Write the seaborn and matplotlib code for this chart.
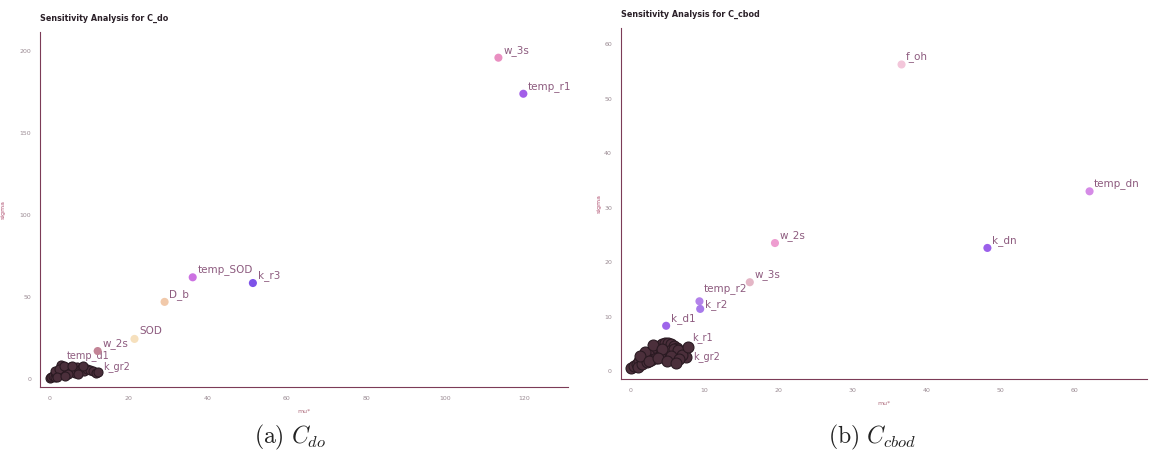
import matplotlib
matplotlib.use("Agg")
import matplotlib.pyplot as plt
from matplotlib.ticker import MultipleLocator
import pandas as pd
import seaborn as sns

sns.set_theme(style="white")
plt.rcParams["font.family"] = ["DejaVu Sans"]
plt.rcParams["mathtext.fontset"] = "cm"

# ---- C_do: named parameters -------------------------------------------
do_params = ["w_3s", "temp_r1", "temp_SOD", "k_r3", "D_b", "SOD", "w_2s"]
do_mu = [113.4, 119.7, 36.2, 51.4, 29.1, 21.5, 12.2]
do_sigma = [196.0, 174.0, 62.0, 58.5, 47.0, 24.4, 17.0]
do_colors = ["#e98fc1", "#a25ee8", "#cc72e2", "#7d52e8", "#f1c9aa", "#f6e0bd", "#c38496"]

# C_do: low-influence group near the origin
do_low_mu = [0.2, 0.5, 0.9, 1.3, 1.7, 2.1, 2.6, 3.0, 3.3, 3.8, 4.2, 4.7, 5.1, 5.6, 6.0,
             6.5, 7.0, 7.6, 8.2, 8.8, 9.5, 10.2, 11.0, 11.8, 12.4, 1.5, 2.4, 3.6, 4.6,
             5.8, 7.2, 8.6, 2.0, 4.0]
do_low_sigma = [0.3, 1.0, 2.0, 1.4, 3.2, 2.6, 4.0, 8.5, 5.2, 3.4, 6.1, 4.5, 7.2, 5.0, 6.6,
                3.9, 7.5, 5.3, 6.8, 4.6, 6.2, 5.5, 4.8, 3.6, 4.3, 4.8, 6.3, 7.8, 2.8,
                8.0, 2.7, 7.6, 0.9, 1.8]
do_low_labels = {"temp_d1": (3.3, 9.5), "k_gr2": (12.4, 3.0)}

# ---- C_cbod: named parameters -----------------------------------------
cbod_params = ["f_oh", "temp_dn", "k_dn", "w_2s", "w_3s", "temp_r2", "k_r2", "k_d1"]
cbod_mu = [36.6, 62.0, 48.2, 19.5, 16.1, 9.3, 9.4, 4.8]
cbod_sigma = [56.3, 33.0, 22.6, 23.5, 16.3, 12.8, 11.4, 8.3]
cbod_colors = ["#f3c6da", "#d58be6", "#9b60ea", "#ee9dd0", "#e4b6c6", "#b382ea", "#a87aea", "#9e66ea"]
cbod_label_shift = [0.0, 0.0, 0.0, 0.0, 0.0, 0.9, -0.6, 0.0]

# C_cbod: low-influence group near the origin
cbod_low_mu = [0.1, 0.4, 0.8, 1.1, 1.5, 1.9, 2.3, 2.7, 3.1, 3.5, 3.9, 4.3, 4.7, 5.1, 5.5,
               5.9, 6.3, 6.7, 7.1, 7.5, 1.0, 1.6, 2.2, 2.8, 3.4, 4.0, 4.6, 5.2, 5.8, 6.4,
               7.0, 2.0, 3.0, 4.2, 5.4, 6.6, 1.3, 2.5, 3.7, 4.9, 6.1, 7.7]
cbod_low_sigma = [0.5, 0.9, 1.3, 1.8, 2.2, 2.6, 3.0, 3.4, 3.8, 4.2, 4.6, 4.9, 5.1, 5.2, 4.9,
                  4.6, 4.2, 3.7, 3.2, 2.6, 0.8, 1.2, 1.6, 2.0, 2.4, 2.8, 3.2, 3.6, 4.0, 3.8,
                  3.0, 3.5, 4.8, 4.0, 2.7, 2.2, 2.8, 1.8, 2.3, 1.9, 1.5, 4.4]
cbod_low_labels = {"k_r1": (7.7, 4.8), "k_gr2": (7.8, 1.2)}

LABEL_COLOR = "#8d5b7f"
SPINE_COLOR = "#7c3b57"
LOW_COLOR = "#4b2f3b"

fig = plt.figure(figsize=(11.5, 4.59), dpi=100)
ax1 = fig.add_axes([0.035, 0.157, 0.459, 0.773])
ax2 = fig.add_axes([0.540, 0.174, 0.457, 0.765])


def draw_panel(ax, params, mu, sigma, colors, shifts, low_mu, low_sigma, low_labels,
               title, xlim, ylim, xmaj, xmin, ymaj, ymin, offset, low_size, ypad):
    low = pd.DataFrame({"mu_star": low_mu, "sigma": low_sigma})
    named = pd.DataFrame({"mu_star": mu, "sigma": sigma, "param": params})

    # labels of the low-influence group sit beneath its markers
    for name, (x, y) in low_labels.items():
        ax.text(x + offset[0], y + offset[1], name, fontsize=7,
                color=LABEL_COLOR, zorder=1)

    sns.scatterplot(data=low, x="mu_star", y="sigma", ax=ax, s=low_size,
                    color=LOW_COLOR, edgecolor="#2a1a22", linewidth=0.8,
                    legend=False, zorder=3)
    sns.scatterplot(data=named, x="mu_star", y="sigma", hue="param",
                    palette=dict(zip(params, colors)), ax=ax, s=34,
                    linewidth=0, legend=False, zorder=4)
    for name, x, y, dy in zip(params, mu, sigma, shifts):
        ax.text(x + offset[0], y + offset[1] + dy, name, fontsize=7.5,
                color=LABEL_COLOR, zorder=5)

    ax.set_xlim(*xlim)
    ax.set_ylim(*ylim)
    ax.xaxis.set_major_locator(MultipleLocator(xmaj))
    ax.xaxis.set_minor_locator(MultipleLocator(xmin))
    ax.yaxis.set_major_locator(MultipleLocator(ymaj))
    ax.yaxis.set_minor_locator(MultipleLocator(ymin))
    ax.tick_params(which="both", direction="out", colors="#6a4a5a",
                   labelcolor="#9a8a92", labelsize=4.5, width=0.6)
    ax.tick_params(which="major", length=3)
    ax.tick_params(which="minor", length=1.8)
    for side in ("top", "right"):
        ax.spines[side].set_visible(False)
    for side in ("left", "bottom"):
        ax.spines[side].set_color(SPINE_COLOR)
        ax.spines[side].set_linewidth(0.8)
    ax.set_xlabel("mu*", fontsize=4.5, color="#b07080", labelpad=6)
    ax.set_ylabel("sigma", fontsize=4.5, color="#b05070", labelpad=ypad)
    ax.set_title(title, fontsize=5.8, fontweight="bold", color="#2a2028",
                 loc="left", pad=8)
    ax.set_facecolor("white")


draw_panel(ax1, do_params, do_mu, do_sigma, do_colors, [0.0] * len(do_params),
           do_low_mu, do_low_sigma, do_low_labels,
           "Sensitivity Analysis for C_do",
           (-2.3, 131), (-4.9, 211.6), 20, 4, 50, 10, (1.2, 3.0), 42, 10)
draw_panel(ax2, cbod_params, cbod_mu, cbod_sigma, cbod_colors, cbod_label_shift,
           cbod_low_mu, cbod_low_sigma, cbod_low_labels,
           "Sensitivity Analysis for C_cbod",
           (-1.3, 69.7), (-1.5, 63.0), 10, 2, 10, 2, (0.6, 0.9), 62, 2)

fig.text(0.252, 0.048, r"$\mathrm{(a)}\ C_{do}$", fontsize=17, ha="center",
         va="center", color="#222222")
fig.text(0.758, 0.048, r"$\mathrm{(b)}\ C_{cbod}$", fontsize=17, ha="center",
         va="center", color="#222222")

fig.savefig("out.png", dpi=100, facecolor="white")
